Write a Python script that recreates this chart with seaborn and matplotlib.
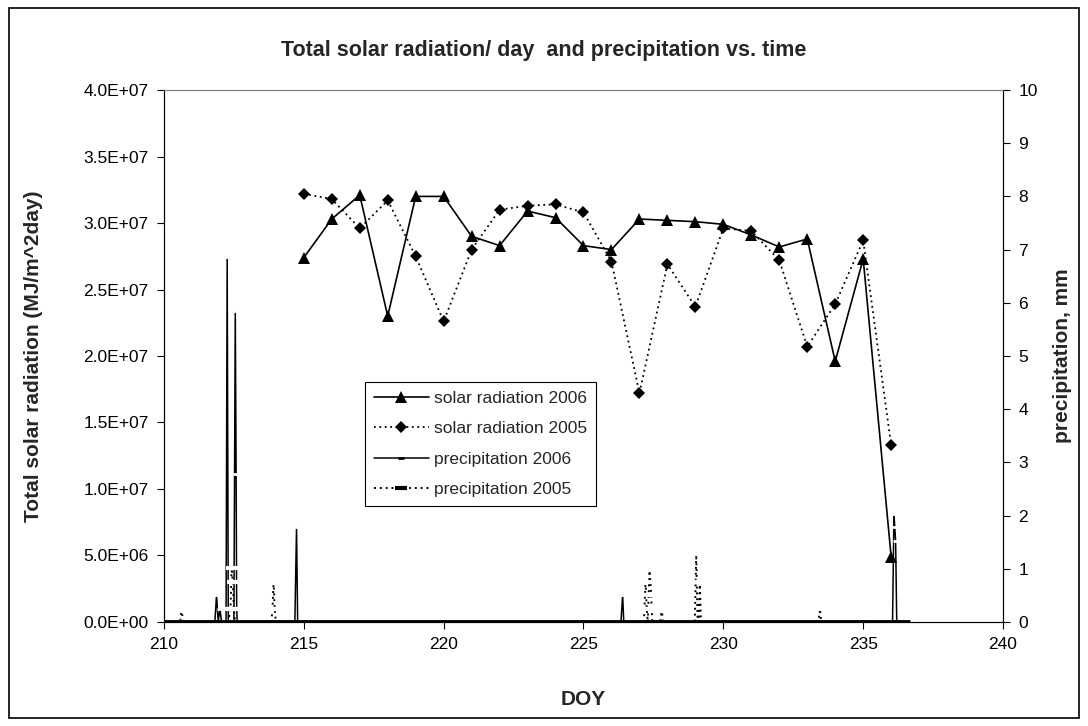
import matplotlib
matplotlib.use("Agg")
import matplotlib.pyplot as plt
import matplotlib.ticker as mticker
from matplotlib.lines import Line2D
from matplotlib.patches import Rectangle
import seaborn as sns

# daily solar radiation (day of year)
doy_solar = [215, 216, 217, 218, 219, 220, 221, 222, 223, 224, 225,
             226, 227, 228, 229, 230, 231, 232, 233, 234, 235, 236]
solar_2006 = [2.74e7, 3.03e7, 3.21e7, 2.30e7, 3.20e7, 3.20e7, 2.90e7, 2.83e7,
              3.09e7, 3.04e7, 2.83e7, 2.80e7, 3.03e7, 3.02e7, 3.01e7, 2.99e7,
              2.91e7, 2.82e7, 2.88e7, 1.96e7, 2.73e7, 0.49e7]
solar_2005 = [3.22e7, 3.18e7, 2.96e7, 3.17e7, 2.75e7, 2.26e7, 2.80e7, 3.10e7,
              3.13e7, 3.14e7, 3.08e7, 2.71e7, 1.72e7, 2.69e7, 2.37e7, 2.96e7,
              2.94e7, 2.72e7, 2.07e7, 2.39e7, 2.87e7, 1.33e7]

# precipitation records (mm)
doy_p06 = [210.0, 211.82, 211.88, 211.94, 212.0, 212.06, 212.22, 212.26, 212.30,
           212.50, 212.55, 212.58, 212.60, 212.62, 214.68, 214.74, 214.78,
           226.34, 226.40, 226.44, 236.05, 236.10, 236.13, 236.16, 236.20, 236.67]
precip_2006 = [0, 0, 0.51, 0, 0.25, 0, 0, 6.86, 0,
               0, 5.84, 2.79, 0.25, 0, 0, 1.78, 0,
               0, 0.51, 0, 0, 2.03, 1.78, 1.52, 0, 0]

doy_p05 = [210.0, 210.58, 210.63, 210.68, 212.30, 212.38, 212.42, 212.46, 212.50,
           212.54, 213.84, 213.88, 213.92, 213.96, 214.0, 227.16, 227.22, 227.26,
           227.30, 227.36, 227.42, 227.46, 227.74, 227.80, 227.84, 228.98, 229.03,
           229.08, 229.12, 229.16, 229.20, 233.40, 233.45, 233.50, 236.67]
precip_2005 = [0, 0, 0.25, 0, 0, 0.25, 1.02, 0.76, 0.25,
               0, 0, 0.25, 0.76, 0.25, 0, 0, 0.76, 0.25,
               0, 1.02, 0.51, 0, 0, 0.25, 0, 0, 1.27,
               0, 0, 0.76, 0, 0, 0.25, 0, 0]

sns.set_style("ticks")
plt.rcParams["font.family"] = ["Liberation Sans", "DejaVu Sans"]

fig, ax = plt.subplots(figsize=(10.88, 7.26), dpi=100)
fig.subplots_adjust(left=0.1507, right=0.9219, top=0.876, bottom=0.1433)
ax2 = ax.twinx()

dot = (0, (1, 2))
sns.lineplot(x=doy_solar, y=solar_2006, ax=ax, color="black", lw=1.2,
             marker="^", markersize=8, markeredgewidth=0, sort=False, estimator=None)
sns.lineplot(x=doy_solar, y=solar_2005, ax=ax, color="black", lw=1.3,
             linestyle=dot, marker="D", markersize=6.5, markeredgewidth=0,
             sort=False, estimator=None)

sns.lineplot(x=doy_p06, y=precip_2006, ax=ax2, color="black", lw=1.1,
             marker="_", markersize=5, markeredgewidth=2, sort=False, estimator=None)
sns.lineplot(x=doy_p05, y=precip_2005, ax=ax2, color="black", lw=1.4,
             linestyle=dot, marker="_", markersize=8, markeredgewidth=3,
             sort=False, estimator=None)
# thick baseline where the gauge records are zero
ax2.hlines(0, min(doy_p06), max(doy_p06), color="black", lw=3.5, zorder=5)

ax.set_xlim(210, 240)
ax.set_ylim(0, 4e7)
ax2.set_ylim(0, 10)
ax.set_xticks(range(210, 241, 5))
ax.set_yticks([i * 5e6 for i in range(9)])
ax2.set_yticks(range(0, 11))
ax.yaxis.set_major_formatter(mticker.FuncFormatter(lambda v, p: f"{v:.1E}"))

for a in (ax, ax2):
    a.tick_params(labelsize=12.5, length=5, width=0.8, colors="black", pad=6)
    for s in a.spines.values():
        s.set_linewidth(0.8)
        s.set_color("black")
ax.spines["top"].set_color("#808080")
ax2.spines["top"].set_color("#808080")

ax.set_xlabel("DOY", fontsize=15, fontweight="bold")
ax.set_ylabel("Total solar radiation (MJ/m^2day)", fontsize=15, fontweight="bold")
ax2.set_ylabel("precipitation, mm", fontsize=15, fontweight="bold")
ax.xaxis.set_label_coords(0.5, -0.127)
ax.yaxis.set_label_coords(-0.144, 0.5)
ax2.yaxis.set_label_coords(1.0596, 0.5)
fig.text(0.5, 0.931, "Total solar radiation/ day  and precipitation vs. time",
         ha="center", va="center", fontsize=15.5, fontweight="bold")

handles = [
    Line2D([], [], color="black", lw=1.2, marker="^", markersize=8, markeredgewidth=0),
    Line2D([], [], color="black", lw=1.3, linestyle=dot, marker="D", markersize=6.5,
           markeredgewidth=0),
    Line2D([], [], color="black", lw=1.1, marker="_", markersize=5, markeredgewidth=2),
    Line2D([], [], color="black", lw=1.4, linestyle=dot, marker="_", markersize=8,
           markeredgewidth=3),
]
labels = ["solar radiation 2006", "solar radiation 2005",
          "precipitation 2006", "precipitation 2005"]
leg = ax2.legend(handles, labels, loc="upper left", bbox_to_anchor=(0.2396, 0.451),
                 borderaxespad=0, fontsize=12.5, frameon=True, fancybox=False,
                 edgecolor="black", framealpha=1, handlelength=3.2, borderpad=0.5,
                 labelspacing=0.88, handletextpad=0.3)
leg.get_frame().set_linewidth(0.8)

fig.patches.append(Rectangle((0.008, 0.011), 0.984, 0.978, transform=fig.transFigure,
                             fill=False, edgecolor="black", lw=1.2))

fig.savefig("out.png", dpi=100, facecolor="white")
